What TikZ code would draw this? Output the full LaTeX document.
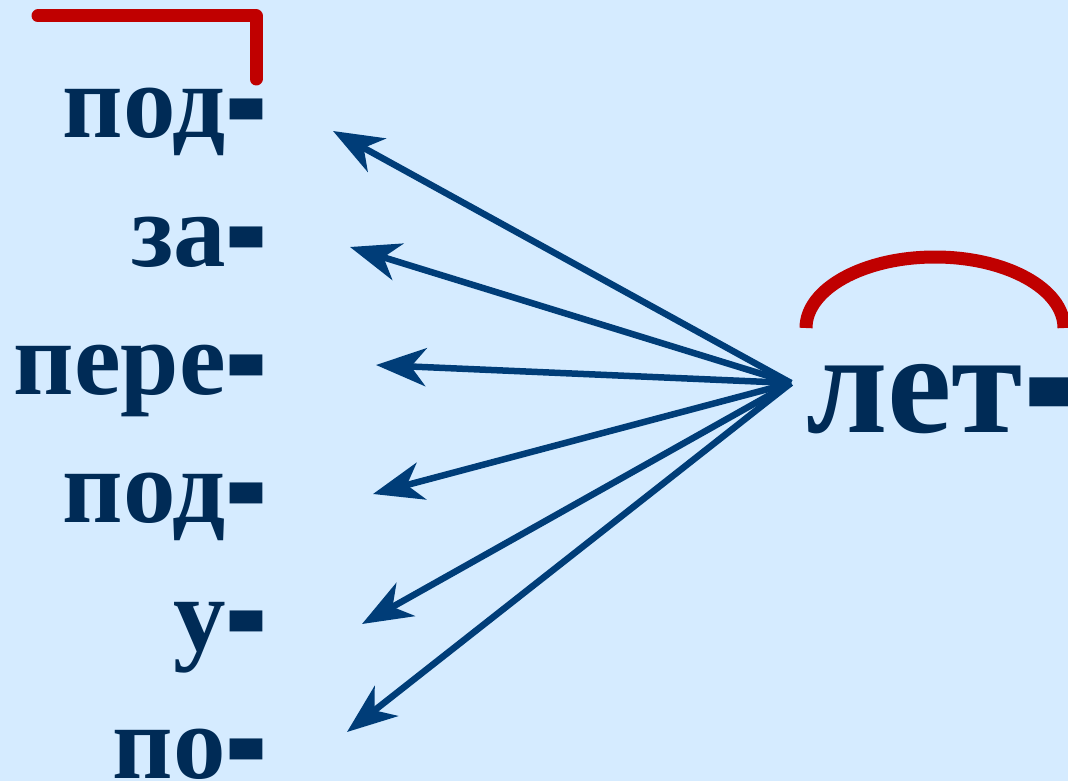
\documentclass[tikz,border=0pt]{standalone}
\usepackage{fontspec}
\setmainfont{Liberation Serif}
\usepackage{graphicx}
\usepackage{tikz}
\usetikzlibrary{arrows.meta,positioning}
\definecolor{PaleBlue}{RGB}{213,235,255}
\definecolor{InkBlue}{RGB}{0,43,86}
\definecolor{ArrowBlue}{RGB}{0,61,120}
\definecolor{MarkRed}{RGB}{192,0,0}
\newcommand{\thickhy}{\raisebox{-0.28em}{\scalebox{1.2}[2.35]{-}}}

\begin{document}
\begin{tikzpicture}[x=1pt,y=-1pt,
  prefixword/.style={anchor=base east,inner sep=0pt,text=InkBlue,
                 font=\fontsize{105}{105}\selectfont\bfseries},
  rootword/.style={anchor=base west,inner sep=0pt,text=InkBlue,
                   font=\fontsize{145}{145}\selectfont\bfseries},
  arr/.style={-{Stealth[length=50pt,width=38pt,inset=15pt]},line width=6.5pt,ArrowBlue},
  redmark/.style={line width=13pt,MarkRed},
]
\fill[PaleBlue] (0,0) rectangle (1068,781);
\useasboundingbox (0,0) rectangle (1068,781);
\node[prefixword] (pod) at (268,138) {под\thickhy};
\node[prefixword] (za) at (268,266) {за\thickhy};
\node[prefixword] (pere) at (268,394) {пере\thickhy};
\node[prefixword] (podd) at (268,522) {под\thickhy};
\node[prefixword] (u) at (268,650) {у\thickhy};
\node[prefixword] (po) at (268,778) {по\thickhy};
\node[rootword] (let) at (806,432) {лет\thickhy};
\coordinate (hub) at (791,383);
\coordinate (tpod) at (333,131);
\coordinate (tza) at (350,247);
\coordinate (tpere) at (376,365);
\coordinate (tpodd) at (373,494);
\coordinate (tu) at (362,624);
\coordinate (tpo) at (347,732);
\draw[arr] (hub) -- (tpod);
\draw[arr] (hub) -- (tza);
\draw[arr] (hub) -- (tpere);
\draw[arr] (hub) -- (tpodd);
\draw[arr] (hub) -- (tu);
\draw[arr] (hub) -- (tpo);
% prefix and root marks
\draw[redmark,line cap=round,line join=round] (38,16) -- (256,16) -- (256,79);
\draw[redmark] (806,328) arc[start angle=180,end angle=360,x radius=129,y radius=71];
\end{tikzpicture}
\end{document}
